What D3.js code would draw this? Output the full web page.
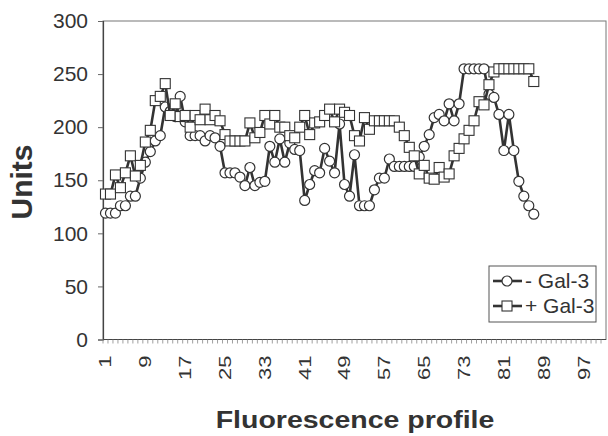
<!DOCTYPE html>
<meta charset="utf-8">
<script src="https://d3js.org/d3.v7.min.js"></script>
<style>
  body { margin: 0; background: #fff; }
  text { font-family: "Liberation Sans", Arial, sans-serif; fill: #333; }
</style>
<div id="chart"></div>
<script>

  // values, one per profile position (1..87)
  var minusGal3 = [119, 119, 119, 126, 126, 135, 135, 152, 167, 177,
    187, 192, 219, 215, 210, 229, 205, 192, 192, 192,
    187, 192, 190, 182, 157, 157, 157, 153, 145, 162,
    145, 148, 149, 182, 167, 189, 167, 185, 179, 178,
    131, 146, 159, 157, 180, 168, 157, 203, 146, 135,
    174, 126, 126, 126, 141, 152, 152, 170, 163, 163,
    163, 163, 163, 172, 182, 193, 209, 212, 206, 222,
    206, 222, 255, 255, 255, 255, 255, 231, 228, 212,
    178, 212, 178, 149, 135, 126, 118];

  var plusGal3 = [137, 137, 155, 143, 157, 173, 154, 164, 186, 197,
    225, 229, 241, 211, 222, 210, 211, 200, 211, 207,
    217, 207, 211, 206, 193, 187, 187, 187, 187, 204,
    190, 195, 211, 203, 211, 200, 200, 192, 190, 200,
    211, 193, 204, 205, 211, 217, 205, 217, 214, 211,
    192, 187, 209, 198, 206, 206, 206, 206, 206, 200,
    192, 181, 173, 156, 164, 152, 151, 162, 153, 156,
    173, 180, 189, 197, 206, 224, 221, 240, 252, 255,
    255, 255, 255, 255, 255, 255, 243];

  var categories = d3.range(1, 102);           // axis runs 1..101
  var xTickLabels = d3.range(1, 102, 8);       // 1, 9, 17 ... 97
  var yTickValues = [0, 50, 100, 150, 200, 250, 300];
  var seriesNames = ["- Gal-3", "+ Gal-3"];

  var W = 608, H = 436;
  var margin = { top: 21, right: 2, bottom: 96, left: 103 };

  var svg = d3.select("#chart").append("svg")
    .attr("width", W)
    .attr("height", H);

  var x = d3.scaleBand()
    .domain(categories)
    .range([margin.left, W - margin.right])
    .padding(0);

  var y = d3.scaleLinear()
    .domain([0, 300])
    .range([H - margin.bottom - 0.5, margin.top]);

  var cx = function (i) { return x(i + 1) + x.bandwidth() / 2; };

  // plot frame
  svg.append("rect")
    .attr("x", margin.left)
    .attr("y", y(300))
    .attr("width", W - margin.right - margin.left)
    .attr("height", y(0) - y(300))
    .attr("fill", "none")
    .attr("stroke", "#777")
    .attr("stroke-width", 1);

  // Y axis
  var yAxis = svg.append("g")
    .attr("transform", "translate(" + margin.left + ",0)")
    .call(d3.axisLeft(y).tickValues(yTickValues).tickSize(5).tickPadding(10));
  yAxis.select(".domain").attr("stroke", "#444").attr("stroke-width", 1.2);
  yAxis.selectAll(".tick line").attr("stroke", "#666");
  yAxis.selectAll(".tick text")
    .style("font-size", "21px")
    .attr("fill", "#333");

  // X axis : small tick at every category boundary
  var xg = svg.append("g").attr("transform", "translate(0," + y(0) + ")");
  xg.append("line")
    .attr("x1", margin.left).attr("x2", W - margin.right)
    .attr("stroke", "#444").attr("stroke-width", 1.2);
  xg.selectAll(".minor")
    .data(categories)
    .enter().append("line")
    .attr("x1", function (d) { return x(d); })
    .attr("x2", function (d) { return x(d); })
    .attr("y1", 0).attr("y2", 4)
    .attr("stroke", "#888").attr("stroke-width", 0.8);
  xg.selectAll(".lbl")
    .data(xTickLabels)
    .enter().append("text")
    .attr("transform", function (d) {
      return "translate(" + (x(d) + x.bandwidth() / 2) + ",16) rotate(-90) scale(1.1,0.85)";
    })
    .attr("text-anchor", "end")
    .attr("dy", "0.35em")
    .style("font-size", "20px")
    .text(function (d) { return d; });

  // axis titles
  svg.append("text")
    .attr("transform", "translate(32,182) rotate(-90)")
    .attr("text-anchor", "middle")
    .style("font-size", "30px")
    .style("font-weight", "bold")
    .text("Units");

  svg.append("text")
    .attr("transform", "translate(355,428) scale(1,0.82)")
    .attr("text-anchor", "middle")
    .style("font-size", "28.5px")
    .style("font-weight", "bold")
    .text("Fluorescence profile");

  // series
  var line = d3.line()
    .x(function (d, i) { return cx(i); })
    .y(function (d) { return y(d); });

  function drawSeries(values, shape) {
    var g = svg.append("g");
    g.append("path")
      .datum(values)
      .attr("d", line)
      .attr("fill", "none")
      .attr("stroke", "#333")
      .attr("stroke-width", 2.6)
      .attr("stroke-linejoin", "round");
    if (shape === "circle") {
      g.selectAll("circle")
        .data(values)
        .enter().append("circle")
        .attr("cx", function (d, i) { return cx(i); })
        .attr("cy", function (d) { return y(d); })
        .attr("r", 5)
        .attr("fill", "#fff")
        .attr("stroke", "#333")
        .attr("stroke-width", 1.2);
    } else {
      g.selectAll("rect")
        .data(values)
        .enter().append("rect")
        .attr("x", function (d, i) { return cx(i) - 5; })
        .attr("y", function (d) { return y(d) - 5; })
        .attr("width", 10)
        .attr("height", 10)
        .attr("fill", "#fff")
        .attr("stroke", "#333")
        .attr("stroke-width", 1.1);
    }
  }

  drawSeries(minusGal3, "circle");
  drawSeries(plusGal3, "square");

  // legend
  var lg = svg.append("g").attr("transform", "translate(489,266)");
  lg.append("rect")
    .attr("width", 107).attr("height", 56)
    .attr("fill", "#fff")
    .attr("stroke", "#555").attr("stroke-width", 1);

  seriesNames.forEach(function (name, k) {
    var ly = 15 + k * 25;
    lg.append("line")
      .attr("x1", 4).attr("x2", 33)
      .attr("y1", ly).attr("y2", ly)
      .attr("stroke", "#333").attr("stroke-width", 2.6);
    if (k === 0) {
      lg.append("circle")
        .attr("cx", 18).attr("cy", ly).attr("r", 5)
        .attr("fill", "#fff").attr("stroke", "#333").attr("stroke-width", 1.2);
    } else {
      lg.append("rect")
        .attr("x", 13).attr("y", ly - 5).attr("width", 10).attr("height", 10)
        .attr("fill", "#fff").attr("stroke", "#333").attr("stroke-width", 1.1);
    }
    lg.append("text")
      .attr("x", 36).attr("y", ly)
      .attr("dy", "0.35em")
      .style("font-size", "21px")
      .text(name);
  });

</script>
